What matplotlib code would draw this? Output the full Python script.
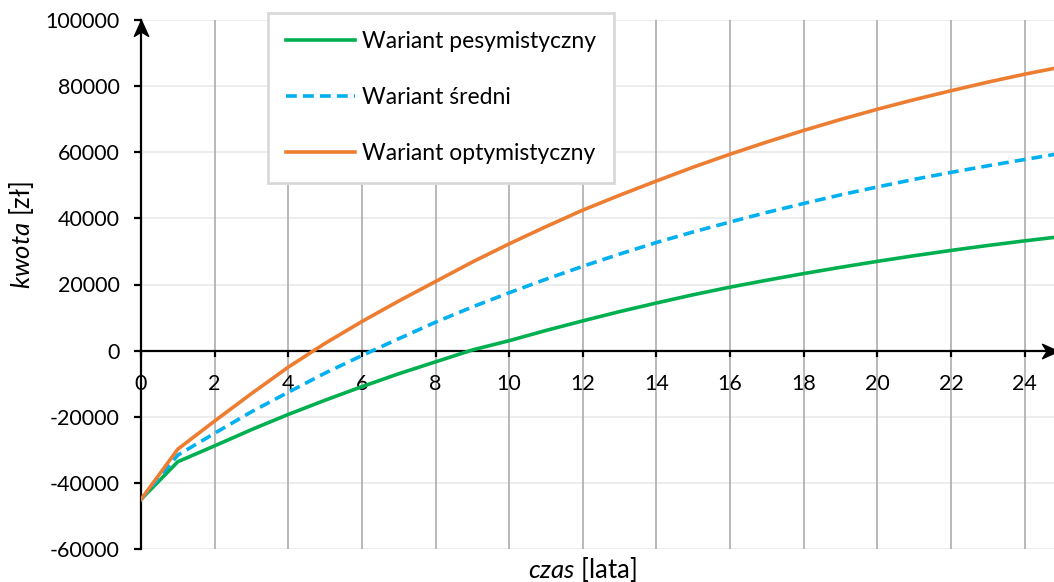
import matplotlib.pyplot as plt
from matplotlib.path import Path

plt.rcParams['font.family'] = ['Lato', 'DejaVu Sans']
plt.rcParams['mathtext.fontset'] = 'custom'
plt.rcParams['mathtext.it'] = 'Lato:italic'
plt.rcParams['mathtext.rm'] = 'Lato'
plt.rcParams['axes.unicode_minus'] = False

# lata 0..25
years = list(range(26))
pesymistyczny = [-45000, -33600, -28800, -23900, -19300, -15000, -10900, -7000, -3400, 200,
                 3000, 6100, 9000, 11800, 14400, 16900, 19200, 21300, 23300, 25200,
                 27000, 28700, 30300, 31800, 33200, 34500]
sredni = [-45000, -31600, -25000, -18500, -12600, -6800, -1500, 3600, 8600, 13200,
          17500, 21600, 25500, 29200, 32700, 35900, 38900, 41800, 44500, 47100,
          49500, 51800, 53900, 55900, 57800, 59700]
optymistyczny = [-45000, -29800, -21300, -13000, -5000, 2200, 8800, 15000, 20900, 26800,
                 32300, 37500, 42500, 47000, 51300, 55500, 59400, 63100, 66600, 69900,
                 73000, 75900, 78600, 81200, 83600, 85800]

x_ticks = list(range(0, 25, 2))
y_ticks = list(range(-60000, 100001, 20000))

fig = plt.figure(figsize=(10.54, 5.82), dpi=100)
ax = fig.add_axes([141 / 1054, 33 / 582, 913 / 1054, 529 / 582])

ax.plot(years, pesymistyczny, color='#00b050', lw=2.6, label='Wariant pesymistyczny', zorder=3)
ax.plot(years, sredni, color='#00b0f0', lw=2.6, dashes=(3, 1.7), label='Wariant średni', zorder=3)
ax.plot(years, optymistyczny, color='#ed7d31', lw=2.6, label='Wariant optymistyczny', zorder=3)

ax.set_xlim(0, 24.8)
ax.set_ylim(-60000, 100000)
ax.set_xticks(x_ticks)
ax.set_yticks(y_ticks)

# siatka
for x in x_ticks[1:]:
    ax.axvline(x, color='#a6a6a6', lw=1.1, zorder=1)
for y in y_ticks:
    ax.axhline(y, color='#e8e8e8', lw=1.1, zorder=0)

# osie jak w Excelu
ax.spines[['top', 'right']].set_visible(False)
ax.spines['bottom'].set_position(('data', 0))
ax.spines['left'].set_linewidth(1.6)
ax.spines['bottom'].set_linewidth(1.6)
ax.spines['bottom'].set_zorder(2)
ax.tick_params(axis='x', direction='out', length=4.5, width=1.6, pad=12, labelsize=15.5)
ax.tick_params(axis='y', direction='out', length=5, width=1.6, pad=10.5, labelsize=15.5)

# strzalki na koncach osi
up = Path([(0, 0), (-0.45, -1), (0, -0.72), (0.45, -1), (0, 0)],
          [Path.MOVETO, Path.LINETO, Path.LINETO, Path.LINETO, Path.CLOSEPOLY])
right = Path([(0, 0), (-1, 0.45), (-0.72, 0), (-1, -0.45), (0, 0)],
             [Path.MOVETO, Path.LINETO, Path.LINETO, Path.LINETO, Path.CLOSEPOLY])
ax.plot(0, 1, marker=up, ms=23, color='black', transform=ax.transAxes, clip_on=False, zorder=5)
ax.plot(1.004, 0, marker=right, ms=23, color='black', transform=ax.get_yaxis_transform(),
        clip_on=False, zorder=5)

fig.text(22 / 1054, 1 - 235 / 582, r'$\mathit{kwota}$ [zł]', rotation=90,
         ha='center', va='center', fontsize=18.5)
fig.text(582 / 1054, 1 - 569 / 582, r'$\mathit{czas}$ [lata]',
         ha='center', va='center', fontsize=18.5)

leg = ax.legend(loc='upper left', bbox_to_anchor=(268 / 1054, 1 - 13 / 582),
                bbox_transform=fig.transFigure, borderaxespad=0, fontsize=16.5,
                handlelength=3.0, handletextpad=0.3, labelspacing=1.53,
                borderpad=0.8, fancybox=False, framealpha=1)
leg.get_frame().set_edgecolor('#d9d9d9')
leg.get_frame().set_linewidth(2)
leg.set_zorder(6)

fig.savefig('out.png', dpi=100)
